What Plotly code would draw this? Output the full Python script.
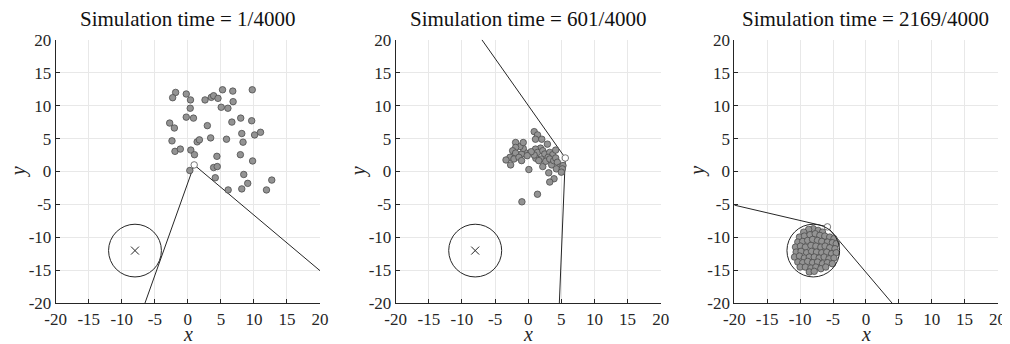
import plotly.graph_objects as go

# ---------------- data ----------------
ticks = [-20, -15, -10, -5, 0, 5, 10, 15, 20]
tick_labels = ["-20", "-15", "-10", "-5", "0", "5", "10", "15", "20"]
titles = ["Simulation time = 1/4000", "Simulation time = 601/4000", "Simulation time = 2169/4000"]

target_center = [-8.0, -12.0]
target_radius = 4.0

# panel 1 (t = 1)
p1_x = [-1.85, -2.3, -0.24, 0.4, 2.6, 3.55, 3.9, 4.56, 5.25, 6.8, 9.75, 6.85, 0.36, 5.05, 6.06,
        -0.24, 0.85, -2.75, -2.04, 2.95, 6.66, 8.0, 9.66, 8.16, 8.35, 10.1, 11.0, -2.4, 1.41, 1.75,
        3.45, 5.85, -1.95, -1.14, 0.45, 1.0, 4.4, 7.95, 9.8, 3.9, 4.45, 0.3, 8.46, 4.15, 9.06,
        12.7, 6.1, 8.16, 11.9]
p1_y = [12.0, 11.2, 11.76, 10.86, 10.86, 11.25, 11.5, 11.1, 12.4, 12.2, 12.4, 10.6, 9.6, 9.75, 9.6,
        8.25, 8.1, 7.35, 6.6, 6.96, 7.5, 8.1, 7.7, 5.76, 4.45, 5.55, 5.95, 4.65, 4.5, 4.8,
        5.1, 4.9, 3.06, 3.4, 3.25, 2.55, 2.3, 2.55, 1.6, 0.6, 0.75, 0.15, -0.45, -0.95, -1.8,
        -1.3, -2.8, -2.64, -2.8]
p1_dog = [0.96, 1.0]
p1_line_x = [-6.5, 0.96, 20.0]
p1_line_y = [-20.0, 1.0, -15.05]

# panel 2 (t = 601)
p2_x = [0.905, 1.41, 1.1, 2.05, 2.9, 1.86, 1.1, 1.41, 2.2, 2.5, 3.25, 3.7, 4.15, 3.0, 1.95, 1.15,
        0.9, 0.45, -0.5, -1.0, -0.75, -1.25, -1.9, -0.75, -1.9, -2.35, -1.9, -2.75, -3.35, -2.65,
        -2.15, -1.4, -1.0, -0.15, 0.1, 1.6, 2.2, 2.65, 3.25, 3.55, 3.85, 4.15, 4.4, 4.75, 4.25,
        5.25, 5.15, 3.1, 3.9, 3.25, 1.4, -0.95, 5.0]
p2_y = [6.05, 5.55, 4.9, 4.9, 4.15, 3.55, 3.4, 2.9, 3.15, 2.65, 2.9, 2.55, 3.25, 2.15, 1.9, 2.0,
        2.5, 3.0, 2.9, 2.65, 3.5, 3.8, 4.4, 4.4, 3.65, 3.15, 2.8, 2.15, 1.75, 1.0,
        1.9, 2.15, 1.65, 2.4, 0.3, 1.65, 0.75, 1.55, 1.9, 1.0, 1.65, 2.05, 1.4, 0.65, 0.4,
        0.9, 0.4, -0.2, -1.1, -1.6, -3.45, -4.6, -0.1]
p2_dog = [5.6, 2.05]
p2_line_x = [-7.0, 5.6, 4.7]
p2_line_y = [20.0, 2.05, -20.0]

# panel 3 (t = 2169)
p3_x = [-8.0, -8.7, -9.45, -7.25, -6.6,
        -10.1, -9.35, -8.5, -7.7, -7.0, -6.25, -5.5, -4.85,
        -10.35, -9.6, -8.85, -8.1, -7.35, -6.7, -5.85, -5.1, -4.5,
        -10.7, -9.95, -9.2, -8.35, -7.6, -6.85, -6.2, -5.5, -4.7,
        -10.6, -9.85, -9.0, -8.25, -7.5, -6.7, -5.95, -5.2, -4.5,
        -10.85, -10.1, -9.35, -8.6, -7.85, -7.1, -6.35, -5.6, -4.85,
        -10.35, -9.6, -8.85, -8.1, -7.35, -6.6, -5.85, -5.1,
        -10.0, -9.2, -8.35, -7.6, -6.85, -6.1,
        -8.6, -7.85]
p3_y = [-8.69, -8.79, -9.2, -8.94, -9.2,
        -9.95, -9.8, -9.6, -9.45, -9.7, -9.8, -9.95, -10.2,
        -10.71, -10.61, -10.46, -10.31, -10.46, -10.61, -10.71, -10.81, -10.96,
        -11.47, -11.32, -11.47, -11.22, -11.32, -11.47, -11.32, -11.57, -11.72,
        -12.23, -12.12, -12.33, -12.12, -12.23, -12.33, -12.23, -12.48, -12.33,
        -12.98, -12.83, -13.13, -12.98, -12.98, -13.13, -12.98, -13.24, -13.13,
        -13.74, -13.84, -13.64, -13.84, -13.74, -13.99, -13.84, -13.99,
        -14.5, -14.5, -14.65, -14.5, -14.75, -14.5,
        -15.25, -15.15]
p3_dog = [-5.85, -8.4]
p3_line_x = [-20.0, -5.85, 4.0]
p3_line_y = [-5.1, -8.4, -20.0]

panels = [
    (p1_x, p1_y, p1_dog, p1_line_x, p1_line_y, True),
    (p2_x, p2_y, p2_dog, p2_line_x, p2_line_y, True),
    (p3_x, p3_y, p3_dog, p3_line_x, p3_line_y, False),
]

# ---------------- figure ----------------
OFF = 8  # page body margin
W, H = 1010 - OFF, 344 - OFF


def px(xr):
    return (xr - OFF) / W


def py(yr):
    return (H - (yr - OFF)) / H


x_edges = [(55.7, 320.0), (395.7, 660.7), (734.3, 997.5)]
y_top, y_bot = 39.7, 303.3

FONT = "Liberation Serif"
AX = "#262626"
fig = go.Figure()

for i, (sx, sy, dog, lx, ly, show_x) in enumerate(panels):
    xa = "x" if i == 0 else f"x{i+1}"
    ya = "y" if i == 0 else f"y{i+1}"
    fig.add_trace(go.Scatter(x=lx, y=ly, mode="lines", xaxis=xa, yaxis=ya,
                             line=dict(color=AX, width=1), hoverinfo="skip", showlegend=False))
    if show_x:
        fig.add_trace(go.Scatter(x=[target_center[0]], y=[target_center[1]], mode="markers",
                                 xaxis=xa, yaxis=ya, showlegend=False,
                                 marker=dict(symbol="x-thin", size=8, color=AX,
                                             line=dict(color=AX, width=1))))
    fig.add_trace(go.Scatter(x=sx, y=sy, mode="markers", xaxis=xa, yaxis=ya, showlegend=False,
                             marker=dict(size=6.5, color="#939393",
                                         line=dict(color="#4d4d4d", width=0.8))))
    fig.add_trace(go.Scatter(x=[dog[0]], y=[dog[1]], mode="markers", xaxis=xa, yaxis=ya,
                             showlegend=False,
                             marker=dict(size=6.5, color="white",
                                         line=dict(color="#555555", width=0.8))))
    fig.add_shape(type="circle", xref=xa, yref=ya,
                  x0=target_center[0] - target_radius, x1=target_center[0] + target_radius,
                  y0=target_center[1] - target_radius, y1=target_center[1] + target_radius,
                  line=dict(color=AX, width=1))

    axis_common = dict(range=[-20, 20], tickmode="array", tickvals=ticks, ticktext=tick_labels,
                       showline=True, linecolor=AX, linewidth=1, mirror=False,
                       ticks="inside", ticklen=4, tickcolor=AX, tickwidth=1,
                       showgrid=True, gridcolor="#e8e8e8", gridwidth=1, zeroline=False,
                       tickfont=dict(family=FONT, size=17, color=AX), automargin=False,
                       ticklabeloverflow="allow", fixedrange=True)
    xkey = "xaxis" if i == 0 else f"xaxis{i+1}"
    ykey = "yaxis" if i == 0 else f"yaxis{i+1}"
    xl, xr = x_edges[i]
    fig.update_layout({
        xkey: dict(axis_common, domain=[px(xl), px(xr)], anchor=ya),
        ykey: dict(axis_common, domain=[py(y_bot), py(y_top)], anchor=xa),
    })
    fig.add_annotation(text=titles[i], xref="paper", yref="paper",
                       x=px((xl + xr) / 2), y=py(19.5),
                       xanchor="center", yanchor="middle", showarrow=False,
                       font=dict(family=FONT, size=21, color="#111111"))
    fig.add_annotation(text="<i>x</i>", xref="paper", yref="paper",
                       x=px((xl + xr) / 2), y=py(334),
                       xanchor="center", yanchor="middle", showarrow=False,
                       font=dict(family=FONT, size=20, color=AX))
    fig.add_annotation(text="<i>y</i>", xref="paper", yref="paper",
                       x=px(xl - 37), y=py((y_top + y_bot) / 2),
                       xanchor="center", yanchor="middle", showarrow=False, textangle=-90,
                       font=dict(family=FONT, size=20, color=AX))

fig.update_layout(width=W, height=H, margin=dict(l=0, r=0, t=0, b=0),
                  template="none", plot_bgcolor="white", paper_bgcolor="white",
                  showlegend=False)

fig.write_html("out.html")
